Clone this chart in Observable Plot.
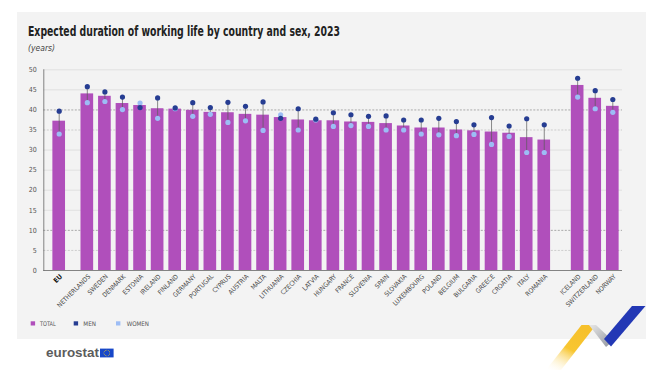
<!DOCTYPE html>
<html><head><meta charset="utf-8">
<script src="https://cdn.jsdelivr.net/npm/d3@7"></script>
<script src="https://cdn.jsdelivr.net/npm/@observablehq/plot@0.6"></script>
<style>
html,body{margin:0;padding:0;background:#fff;}
#wrap{position:relative;width:668px;height:378px;overflow:hidden;font-family:"Liberation Sans Narrow","DejaVu Sans Condensed","Liberation Sans",sans-serif;}
#panel{position:absolute;left:17px;top:12px;width:629px;height:327px;background:#f3f3f3;}
#chart{position:absolute;left:0;top:0;}
#over{position:absolute;left:0;top:0;}
</style></head><body>
<div id="wrap">
  <div id="panel"></div>
  <div id="chart"></div>
  <svg id="over" width="668" height="378"></svg>
</div>
<script>
// ---- data ----
const countries = ["EU","NETHERLANDS","SWEDEN","DENMARK","ESTONIA","IRELAND","FINLAND","GERMANY","PORTUGAL","CYPRUS","AUSTRIA","MALTA","LITHUANIA","CZECHIA","LATVIA","HUNGARY","FRANCE","SLOVENIA","SPAIN","SLOVAKIA","LUXEMBOURG","POLAND","BELGIUM","BULGARIA","GREECE","CROATIA","ITALY","ROMANIA","ICELAND","SWITZERLAND","NORWAY"];
const groups = ["EU","MS","MS","MS","MS","MS","MS","MS","MS","MS","MS","MS","MS","MS","MS","MS","MS","MS","MS","MS","MS","MS","MS","MS","MS","MS","MS","MS","EFTA","EFTA","EFTA"];
const total = [37.2,44.0,43.4,41.6,41.1,40.3,40.2,39.9,39.4,39.3,38.9,38.7,38.1,37.5,37.3,37.3,37.0,36.9,36.6,36.0,35.5,35.5,35.0,34.8,34.5,34.2,33.1,32.5,46.1,42.9,40.9];
const men = [39.7,45.8,44.5,43.2,40.6,43.0,40.5,41.8,40.6,41.9,40.9,42.0,37.9,40.3,37.7,39.3,38.8,38.4,38.5,37.5,37.5,37.9,37.1,36.3,38.1,36.0,37.8,36.3,47.9,44.8,42.6];
const women = [34.0,41.8,42.1,40.1,41.7,37.9,40.3,38.4,38.9,36.9,37.3,34.9,38.8,35.0,37.5,35.9,36.1,35.9,35.0,35.0,34.0,33.8,33.6,33.9,31.4,33.4,29.4,29.4,43.2,40.3,39.4];
const yTicks = [0,5,10,15,20,25,30,35,40,45,50];
const legendLabels = ["TOTAL","MEN","WOMEN"];

// ---- layout (group gaps) ----
const gapAfter = {"EU->MS": 0.6, "MS->EFTA": 0.9};
let p = 0;
const data = countries.map((name, i) => {
  if (i > 0) p += 1 + (gapAfter[groups[i-1] + "->" + groups[i]] || 0);
  return {name, group: groups[i], pos: p, total: total[i], men: men[i], women: women[i]};
});
const maxPos = p;
const half = 0.36;

const FONT = '"Liberation Sans Narrow","DejaVu Sans Condensed","Liberation Sans",sans-serif';
const C_TOTAL = "#b04fbb", C_MEN = "#263d92", C_WOMEN = "#9dbdf5";

const chart = Plot.plot({
  width: 668, height: 330,
  marginLeft: 43.3, marginRight: 46, marginTop: 69.3, marginBottom: 60,
  style: {background: "transparent", fontFamily: FONT, fontSize: "7px", color: "#555", overflow: "visible"},
  x: {domain: [0, maxPos], range: [58.7, 612.3], axis: null},
  y: {domain: [0, 50], axis: null},
  marks: [
    Plot.gridY(yTicks.filter(t => ![0,5,10,35,40].includes(t)), {stroke: "#d9d9d9", strokeOpacity: 1, strokeWidth: 0.7}),
    Plot.gridY([5,35], {stroke: "#bcbcbc", strokeOpacity: 1, strokeWidth: 0.7, strokeDasharray: "2,1.5"}),
    Plot.gridY([10,40], {stroke: "#8a8a8a", strokeOpacity: 1, strokeWidth: 0.7, strokeDasharray: "2,1.5"}),
    Plot.axisY({ticks: yTicks, tickSize: 0, tickPadding: 7, label: null, fontSize: 7, fill: "#555"}),
    Plot.rectY(data, {x1: d => d.pos - half, x2: d => d.pos + half, y: "total", fill: C_TOTAL}),
    Plot.ruleX(data, {x: "pos", y1: "women", y2: "men", stroke: "#5a5a5a", strokeWidth: 0.7}),
    Plot.dot(data, {x: "pos", y: "women", r: 2.6, fill: C_WOMEN}),
    Plot.dot(data, {x: "pos", y: "men", r: 2.6, fill: C_MEN}),
    Plot.ruleY([0], {stroke: "#666", strokeWidth: 0.8}),
    Plot.frame({anchor: "left", stroke: "#666", strokeWidth: 0.8}),
    Plot.text(data.filter(d => d.group !== "EU"), {x: "pos", y: () => 0, text: "name", rotate: -45, textAnchor: "end", dx: 2, dy: 5, fontSize: 6.5, fill: "#444"}),
    Plot.text(data.filter(d => d.group === "EU"), {x: "pos", y: () => 0, text: "name", rotate: -45, textAnchor: "end", dx: 2, dy: 5, fontSize: 6.8, fontWeight: "bold", fill: "#111"})
  ]
});
document.getElementById("chart").appendChild(chart);

// ---- overlay: title, legend, logo, decoration ----
const over = d3.select("#over");
over.append("text").attr("x", 28).attr("y", 36).attr("font-family", FONT).attr("font-weight", "bold")
  .attr("font-size", 14).attr("fill", "#222").attr("textLength", 312).attr("lengthAdjust", "spacingAndGlyphs")
  .text("Expected duration of working life by country and sex, 2023");
over.append("text").attr("x", 28).attr("y", 51).attr("font-family", FONT).attr("font-style", "italic")
  .attr("font-size", 8.5).attr("fill", "#444").text("(years)");

const legColors = [C_TOTAL, C_MEN, C_WOMEN];
const legSq = [30.7, 73.7, 116];
const legTx = [40, 83.3, 126.7];
const legW = [15.7, 12.7, 22.3];
legendLabels.forEach((l, i) => {
  over.append("rect").attr("x", legSq[i]).attr("y", 321.3).attr("width", 4.4).attr("height", 4.2).attr("fill", legColors[i]);
  over.append("text").attr("x", legTx[i]).attr("y", 325.8).attr("font-family", FONT).attr("font-size", 6.3)
    .attr("fill", "#555").attr("textLength", legW[i]).attr("lengthAdjust", "spacingAndGlyphs").text(l);
});

// logo
over.append("text").attr("x", 46).attr("y", 356.5).attr("font-family", '"Liberation Sans",Arial,sans-serif')
  .attr("font-weight", "bold").attr("font-size", 12.5).attr("fill", "#5c5c5c")
  .attr("textLength", 53).attr("lengthAdjust", "spacingAndGlyphs").text("eurostat");
over.append("rect").attr("x", 100).attr("y", 348.6).attr("width", 13.6).attr("height", 8.8).attr("fill", "#1747c9");
d3.range(12).forEach(k => {
  const a = k / 12 * 2 * Math.PI;
  over.append("circle").attr("cx", 106.8 + 2.9 * Math.cos(a)).attr("cy", 353 + 2.9 * Math.sin(a)).attr("r", 0.45).attr("fill", "#ffd617");
});

// decorative ribbon
const defs = over.append("defs");
const gy = defs.append("linearGradient").attr("id", "gy").attr("x1", 0).attr("y1", 1).attr("x2", 0.6).attr("y2", 0);
gy.append("stop").attr("offset", "0").attr("stop-color", "#ffffff").attr("stop-opacity", 0);
gy.append("stop").attr("offset", "0.55").attr("stop-color", "#f8c630");
gy.append("stop").attr("offset", "1").attr("stop-color", "#f6c02b");
const gg = defs.append("linearGradient").attr("id", "gg").attr("x1", 0).attr("y1", 0).attr("x2", 1).attr("y2", 1);
gg.append("stop").attr("offset", "0").attr("stop-color", "#e8e8e8");
gg.append("stop").attr("offset", "1").attr("stop-color", "#8f939c");
over.append("polygon").attr("points", "546,370 581.5,325 596,325 561,370").attr("fill", "url(#gy)");
over.append("polygon").attr("points", "589,325 596,325 613,341 606,347").attr("fill", "url(#gg)");
over.append("polygon").attr("points", "604,339 632,306 645.5,306 611,346.5").attr("fill", "#2338b5");
</script>
</body></html>
